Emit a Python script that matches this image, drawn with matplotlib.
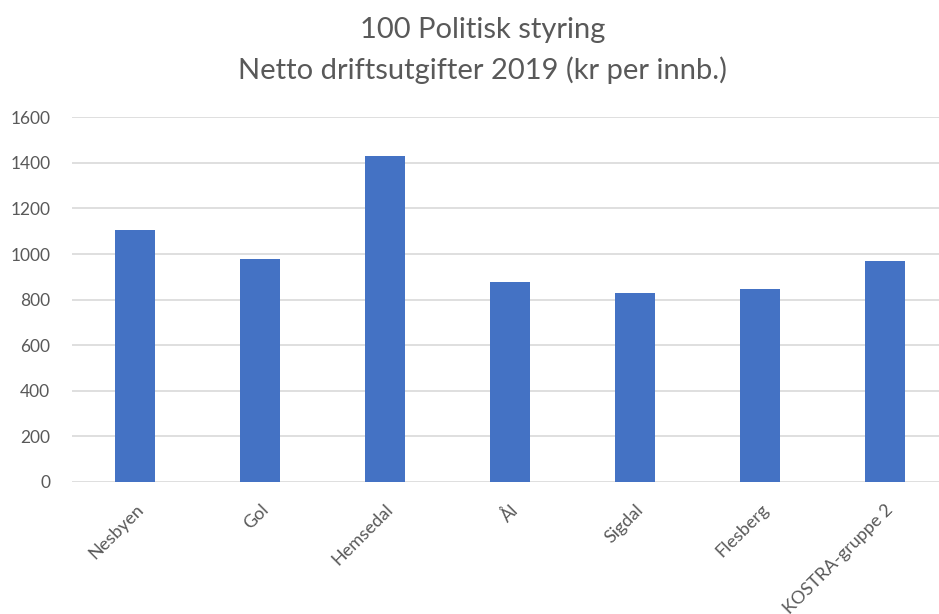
import matplotlib
matplotlib.use("Agg")
import matplotlib.pyplot as plt

plt.rcParams['font.family'] = ['Lato', 'DejaVu Sans']

kommuner = ["Nesbyen", "Gol", "Hemsedal", "Ål", "Sigdal", "Flesberg", "KOSTRA-gruppe 2"]
utgifter = [1107, 977, 1431, 876, 831, 847, 969]
yticks = [0, 200, 400, 600, 800, 1000, 1200, 1400, 1600]

text_color = "#595959"
grid_color = "#d9d9d9"
bar_color = "#4472C4"

fig = plt.figure(figsize=(9.39, 6.14), dpi=100)
ax = fig.add_axes([0.0772, 0.215, 0.9228, 0.594])

x = range(len(kommuner))
ax.bar(x, utgifter, width=0.32, color=bar_color, zorder=3)

ax.set_xlim(-0.5, 6.43)
ax.set_ylim(0, 1600)
ax.set_yticks(yticks)
ax.yaxis.grid(True, color=grid_color, linewidth=1.2, zorder=0)
for s in ax.spines.values():
    s.set_visible(False)
ax.tick_params(axis="both", length=0, colors=text_color, labelsize=12.5)
ax.tick_params(axis="y", pad=16)
ax.tick_params(axis="x", pad=14)

ax.set_xticks(list(x))
ax.set_xticklabels(kommuner, rotation=45, ha="right", va="top",
                   rotation_mode="anchor", color=text_color, fontsize=13)

fig.text(0.514, 0.951, "100 Politisk styring", ha="center", va="center",
         fontsize=21, color=text_color)
fig.text(0.514, 0.886, "Netto driftsutgifter 2019 (kr per innb.)", ha="center",
         va="center", fontsize=21, color=text_color)

fig.savefig("out.png", dpi=100)
